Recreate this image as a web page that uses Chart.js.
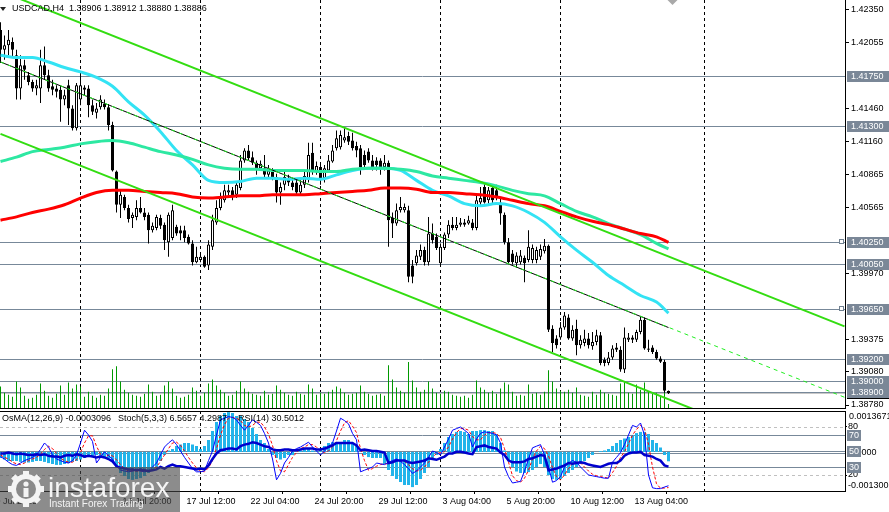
<!DOCTYPE html>
<html>
<head>
<meta charset="utf-8">
<title>USDCAD H4</title>
<script src="https://cdn.jsdelivr.net/npm/chart.js@4.4.1/dist/chart.umd.min.js"></script>
<style>
  html, body { margin:0; padding:0; background:#ffffff; }
  body { width:889px; height:512px; overflow:hidden; position:relative; }
  canvas { position:absolute; left:0; display:block; }
  #mainChart { top:0; }
  #subChart { top:410px; }
</style>
</head>
<body>
<canvas id="mainChart" width="889" height="410"></canvas>
<canvas id="subChart" width="889" height="102"></canvas>
<script>
// ---------------- DATA ----------------
const symbolTitle = 'USDCAD,H4';

const opens = [
1.4217,1.4199,1.4203,1.4206,1.4194,1.4164,1.4185,1.4176,1.4170,1.4164,
1.4164,1.4185,1.4176,1.4166,1.4164,1.4163,1.4154,1.4167,1.4146,1.4128,
1.4154,1.4165,1.4164,1.4149,1.4142,1.4147,1.4150,1.4147,1.4131,1.4089,
1.4059,1.4066,1.4056,1.4047,1.4048,1.4056,1.4052,1.4050,1.4036,1.4038,
1.4047,1.4041,1.4025,1.4029,1.4039,1.4036,1.4036,1.4030,1.4024,1.4007,
1.4009,1.4012,1.4004,1.4021,1.4043,1.4056,1.4063,1.4070,1.4072,1.4068,
1.4074,1.4099,1.4108,1.4102,1.4097,1.4092,1.4092,1.4086,1.4089,1.4084,
1.4070,1.4077,1.4083,1.4079,1.4079,1.4070,1.4077,1.4083,1.4106,1.4089,
1.4093,1.4083,1.4090,1.4098,1.4110,1.4111,1.4117,1.4121,1.4117,1.4112,
1.4110,1.4104,1.4107,1.4099,1.4099,1.4099,1.4093,1.4097,1.4047,1.4042,
1.4054,1.4054,1.4054,1.4004,1.4006,1.4012,1.4018,1.4007,1.4033,1.4030,
1.4006,1.4020,1.4032,1.4041,1.4038,1.4041,1.4043,1.4042,1.4043,1.4038,
1.4061,1.4075,1.4063,1.4074,1.4072,1.4061,1.4050,1.4025,1.4015,1.4006,
1.4007,1.4011,1.4009,1.4009,1.4009,1.4012,1.4017,1.4022,1.3947,1.3938,
1.3939,1.3948,1.3957,1.3938,1.3947,1.3932,1.3934,1.3938,1.3931,1.3935,
1.3941,1.3919,1.3916,1.3921,1.3930,1.3928,1.3910,1.3937,1.3939,1.3937,
1.3944,1.3955,1.3929,1.3930,1.3926,1.3920,1.3917,1.38906];

const highs = [
1.4224,1.4212,1.4217,1.4210,1.4199,1.4194,1.4190,1.4179,1.4172,1.4172,
1.4199,1.4202,1.4181,1.4172,1.4167,1.4167,1.4163,1.4172,1.4149,1.4169,
1.4178,1.4167,1.4167,1.4154,1.4151,1.4158,1.4154,1.4150,1.4134,1.4090,
1.4072,1.4068,1.4059,1.4052,1.4063,1.4066,1.4056,1.4052,1.4043,1.4050,
1.4050,1.4043,1.4052,1.4059,1.4041,1.4040,1.4040,1.4032,1.4027,1.4021,
1.4015,1.4013,1.4027,1.4050,1.4063,1.4070,1.4077,1.4077,1.4075,1.4079,
1.4104,1.4110,1.4113,1.4107,1.4099,1.4099,1.4104,1.4095,1.4092,1.4087,
1.4079,1.4089,1.4086,1.4083,1.4083,1.4081,1.4089,1.4115,1.4115,1.4098,
1.4097,1.4095,1.4104,1.4113,1.4126,1.4126,1.4128,1.4125,1.4124,1.4116,
1.4113,1.4108,1.4110,1.4104,1.4102,1.4101,1.4104,1.4099,1.4052,1.4060,
1.4066,1.4060,1.4058,1.4009,1.4018,1.4023,1.4021,1.4048,1.4042,1.4033,
1.4024,1.4034,1.4045,1.4048,1.4048,1.4047,1.4046,1.4049,1.4046,1.4068,
1.4075,1.4079,1.4075,1.4077,1.4077,1.4065,1.4052,1.4029,1.4018,1.4016,
1.4018,1.4013,1.4036,1.4023,1.4021,1.4023,1.4028,1.4023,1.3950,1.3941,
1.3953,1.3962,1.3960,1.3950,1.3955,1.3941,1.3946,1.3943,1.3944,1.3946,
1.3944,1.3921,1.3926,1.3932,1.3934,1.3931,1.3948,1.3943,1.3941,1.3946,
1.3958,1.3957,1.3937,1.3932,1.3928,1.3922,1.3919,1.38912];

const lows = [
1.4187,1.4190,1.4194,1.4192,1.4154,1.4154,1.4172,1.4167,1.4161,1.4158,
1.4151,1.4172,1.4161,1.4158,1.4156,1.4134,1.4149,1.4131,1.4126,1.4126,
1.4149,1.4158,1.4138,1.4140,1.4137,1.4145,1.4145,1.4126,1.4089,1.4052,
1.4047,1.4054,1.4043,1.4038,1.4045,1.4051,1.4045,1.4024,1.4034,1.4036,
1.4037,1.4018,1.4012,1.4027,1.4031,1.4027,1.4025,1.4023,1.4004,1.4006,
1.4007,1.4002,1.4000,1.4018,1.4041,1.4054,1.4061,1.4067,1.4063,1.4065,
1.4072,1.4097,1.4099,1.4095,1.4086,1.4090,1.4083,1.4084,1.4081,1.4061,
1.4059,1.4072,1.4076,1.4072,1.4067,1.4068,1.4074,1.4079,1.4086,1.4086,
1.4077,1.4079,1.4089,1.4097,1.4108,1.4109,1.4115,1.4113,1.4108,1.4102,
1.4086,1.4092,1.4097,1.4090,1.4090,1.4086,1.4090,1.4021,1.4029,1.4040,
1.4052,1.4052,1.3989,1.3988,1.4004,1.4009,1.4004,1.4004,1.4024,1.4018,
1.4004,1.4018,1.4029,1.4036,1.4036,1.4039,1.4039,1.4041,1.4036,1.4036,
1.4059,1.4060,1.4060,1.4060,1.4063,1.4041,1.4023,1.4006,1.4005,1.4002,
1.4005,1.3989,1.4007,1.4006,1.4006,1.4009,1.4015,1.3944,1.3926,1.3929,
1.3937,1.3946,1.3937,1.3936,1.3923,1.3929,1.3931,1.3929,1.3928,1.3932,
1.3914,1.3913,1.3914,1.3919,1.3926,1.3908,1.3907,1.3935,1.3934,1.3935,
1.3942,1.3928,1.3926,1.3924,1.3919,1.3916,1.3889,1.38880];

const closes = [
1.4199,1.4203,1.4208,1.4199,1.4164,1.4185,1.4181,1.4170,1.4164,1.4167,
1.4185,1.4176,1.4164,1.4163,1.4161,1.4154,1.4158,1.4146,1.4128,1.4167,
1.4167,1.4163,1.4149,1.4143,1.4146,1.4154,1.4147,1.4131,1.4090,1.4059,
1.4068,1.4056,1.4046,1.4050,1.4056,1.4052,1.4048,1.4036,1.4040,1.4048,
1.4040,1.4027,1.4050,1.4054,1.4033,1.4033,1.4029,1.4024,1.4007,1.4012,
1.4012,1.4003,1.4023,1.4045,1.4056,1.4065,1.4072,1.4072,1.4066,1.4077,
1.4099,1.4108,1.4101,1.4097,1.4092,1.4096,1.4086,1.4090,1.4084,1.4070,
1.4075,1.4084,1.4079,1.4075,1.4070,1.4077,1.4085,1.4104,1.4089,1.4094,
1.4083,1.4092,1.4099,1.4108,1.4119,1.4122,1.4120,1.4116,1.4110,1.4108,
1.4093,1.4095,1.4099,1.4093,1.4095,1.4093,1.4097,1.4045,1.4042,1.4054,
1.4057,1.4057,1.3994,1.3994,1.4013,1.4018,1.4007,1.4033,1.4027,1.4020,
1.4021,1.4032,1.4041,1.4038,1.4041,1.4043,1.4041,1.4045,1.4038,1.4063,
1.4065,1.4061,1.4072,1.4063,1.4066,1.4051,1.4025,1.4007,1.4007,1.4013,
1.4013,1.4006,1.4021,1.4020,1.4018,1.4019,1.4022,1.3946,1.3934,1.3932,
1.3948,1.3959,1.3938,1.3946,1.3932,1.3937,1.3938,1.3932,1.3935,1.3941,
1.3916,1.3916,1.3921,1.3929,1.3928,1.3910,1.3939,1.3939,1.3937,1.3944,
1.3955,1.3929,1.3928,1.3926,1.3920,1.3917,1.3891,1.38886];

const volumes = [
2100,1500,1300,1100,2600,2000,1200,900,1000,1300,2400,1700,1200,1000,1400,2200,1300,2500,1900,2300,
2100,1100,1600,1200,1000,1300,1200,1900,3800,4100,2600,1800,1500,1300,1200,1100,1400,2300,1600,1200,
1300,2200,2600,1900,1200,1000,1100,1300,2000,1700,1200,1500,2400,2800,2200,1800,1500,1200,1300,1700,
2600,1900,1600,1400,1300,1200,1700,1300,1400,2200,1800,1500,1300,1200,1600,1400,1300,2300,1900,1300,
1500,1400,1600,1800,2100,1900,1500,1300,1400,1500,2200,1600,1400,1200,1300,1400,1200,4200,2800,2000,
1700,1500,4500,2700,2000,1600,1800,2600,1900,1500,1400,1700,1600,1300,1200,1100,1200,1000,1300,2700,
2000,1800,1500,1700,1400,1900,2500,2300,1600,1200,1300,1200,2300,1400,1500,1300,1600,3700,2600,1900,
1700,1600,1800,1500,2000,1300,1200,1100,1600,1300,1800,1500,1400,1300,1200,2400,2600,1500,1400,2300,
1800,2500,1600,1400,1500,1200,2600,400];

// moving averages sampled at these bars
const maBars = [0,4,8,12,16,20,24,28,32,36,40,44,48,52,56,60,64,68,72,76,80,84,88,92,96,100,104,108,112,116,120,124,128,132,136,140,144,148,152,156,160,164,167];
const maFast = [1.4194,1.4192,1.4192,1.4188,1.4183,1.4179,1.4174,1.4166,1.4152,1.4140,1.4125,1.4108,1.4095,1.4081,1.4079,1.4080,1.4083,1.4083,1.4082,1.4083,1.4082,1.4086,1.4090,1.4092,1.4092,1.4090,1.4081,1.4072,1.4067,1.4060,1.4058,1.4060,1.4058,1.4052,1.4043,1.4030,1.4018,1.4007,1.3995,1.3986,1.3977,1.3971,1.3961];
const maMid  = [1.4098,1.4102,1.4107,1.4109,1.4111,1.4114,1.4116,1.4117,1.4115,1.4111,1.4107,1.4104,1.4100,1.4095,1.4092,1.4091,1.4091,1.4090,1.4090,1.4090,1.4089,1.4089,1.4091,1.4092,1.4092,1.4091,1.4089,1.4085,1.4083,1.4081,1.4079,1.4076,1.4072,1.4069,1.4067,1.4060,1.4053,1.4048,1.4042,1.4037,1.4032,1.4024,1.4019];
const maSlow = [1.4045,1.4048,1.4052,1.4055,1.4059,1.4065,1.4070,1.4072,1.4072,1.4071,1.4070,1.4069,1.4066,1.4065,1.4066,1.4067,1.4067,1.4068,1.4068,1.4068,1.4069,1.4070,1.4071,1.4072,1.4074,1.4074,1.4073,1.4070,1.4070,1.4069,1.4068,1.4066,1.4063,1.4060,1.4058,1.4053,1.4048,1.4044,1.4041,1.4037,1.4033,1.4030,1.4025];

// trend channel (bar, price) end points
const channelUpper = [{x:0, y:1.4252}, {x:211, y:1.3949}];
const channelMid   = [{x:0, y:1.4188}, {x:211, y:1.3885}];
const channelMidDrawn = [{x:0, y:1.4188}, {x:167, y:1.3948}];
const channelLower = [{x:0, y:1.4123}, {x:211, y:1.3820}];

const levels = [1.4175, 1.4130, 1.4025, 1.4005, 1.3965, 1.3920, 1.3900, 1.3890];
const levelsWithHandle = [1.4025, 1.3965];
const bidPrice = 1.38886;
const priceTicks = [1.42350, 1.42055, 1.41460, 1.41160, 1.40865, 1.40565, 1.39970, 1.39375, 1.39080, 1.38780];

const separatorBars = [20, 50, 80, 110, 140, 176];
const timeLabels = ['10 Jul 2025','14 Jul 20:00','17 Jul 12:00','22 Jul 04:00','24 Jul 20:00','29 Jul 12:00','3 Aug 04:00','5 Aug 20:00','10 Aug 12:00','13 Aug 04:00'];
const timeLabelBars = [-2.5, 30.5, 46.5, 62.5, 78.5, 94.5, 110.5, 126.5, 142.5, 158.5];

// indicators
const osma = [
-0.0002,-0.00025,-0.0003,-0.0003,-0.0003,-0.00033,-0.00035,-0.00035,-0.00033,-0.0003,
-0.0003,-0.00033,-0.00037,-0.0004,-0.00043,-0.00043,-0.0004,-0.00037,-0.00033,-0.0003,
-0.00025,-0.0002,-0.00017,-0.00013,-0.0001,-0.00013,-0.00017,-0.0002,-0.0003,-0.0005,
-0.0007,-0.0008,-0.0009,-0.00093,-0.0009,-0.00087,-0.0008,-0.0007,-0.0006,-0.0005,
-0.0003,-0.0001,0.00005,0.0001,0.0002,0.00025,0.0003,0.0003,0.00025,0.0002,
0.0001,0.0002,0.0004,0.0007,0.001,0.0012,0.0013,0.00133,0.0013,0.0012,
0.0012,0.0011,0.001,0.0008,0.0006,0.0004,0.0003,0.0001,-0.0001,-0.0002,
-0.00025,-0.0002,-0.0001,-0.0001,0,0.00005,0.0001,0.0001,0.00005,0.00002,
0.0001,0.0002,0.0003,0.00033,0.0003,0.00033,0.0004,0.0004,0.0003,0.0002,
0.00002,-0.0001,-0.00017,-0.0002,-0.0002,-0.0002,-0.0004,-0.0006,-0.0008,-0.0009,
-0.001,-0.0011,-0.0011,-0.00117,-0.0011,-0.0009,-0.0007,-0.0005,-0.0002,-0.0001,
0.0001,0.0003,0.0005,0.0006,0.00067,0.0007,0.00067,0.0006,0.0007,0.0007,
0.00073,0.00073,0.0007,0.0007,0.0006,0.0003,0.00005,-0.0003,-0.0005,-0.00065,
-0.0007,-0.0007,-0.00067,-0.0006,-0.0005,-0.0004,-0.0005,-0.00077,-0.0009,-0.00093,
-0.0009,-0.0008,-0.0007,-0.0006,-0.0005,-0.0004,-0.0003,-0.0002,-0.0001,0,
0.00003,0.00005,0.0001,0.0002,0.0003,0.0004,0.00045,0.0005,0.00057,0.00063,
0.00067,0.00067,0.0006,0.0004,0.0003,0.00015,-0.0001,-0.0003096];

const stochMain = [
43,40,36,33,32,35,38,40,42,45,
52,60,55,45,40,38,36,35,38,45,
60,76,70,62,35,42,49,44,40,32,
26,25,24,25,26,25,24,25,30,35,
45,55,60,64,58,50,42,35,28,24,
24,25,38,50,70,89,91,93,92,89,
82,76,82,89,86,82,72,60,40,14,
22,35,42,50,53,55,58,61,55,50,
45,50,55,60,75,91,88,84,72,64,
24,26,28,30,35,34,33,36,38,40,
37,33,28,22,25,30,35,42,50,48,
45,55,65,76,78,80,76,72,55,65,
72,74,73,72,70,60,30,18,10,11,
12,25,40,54,56,58,45,30,11,13,
18,30,35,38,36,30,25,20,19,18,
17,16,16,36,42,48,58,70,82,80,
85,70,20,4,3,3,5,6.5657];

const stochSignal = [
45,42,40,36,34,33,35,38,40,42,
46,52,56,53,47,41,38,36,36,39,
48,60,69,69,56,46,42,45,44,39,
33,28,25,25,25,25,25,25,26,30,
37,45,53,60,61,57,50,42,35,29,
25,24,29,38,53,70,83,91,92,91,
88,82,80,82,86,86,80,71,57,38,
25,24,33,42,48,53,55,58,58,55,
50,48,50,55,63,75,85,88,81,73,
53,38,26,28,31,33,34,34,36,38,
38,37,33,28,25,26,30,36,42,47,
48,49,55,65,73,78,78,76,68,64,
64,70,73,73,72,67,53,36,19,13,
11,16,26,40,50,56,53,44,29,18,
14,20,28,34,36,35,30,25,21,19,
18,17,16,23,31,42,49,59,70,77,
82,78,58,30,9,3.5,3.7,4.2987];

const rsi = [
47,47,48,47,46,47,46,45,45,46,
45,46,44,43,43,42,44,45,44,46,
45,43,44,43,42,43,42,40,37,31,
29,28,27,27,26,27,26,25,26,27,
30,28,31,33,31,31,30,29,28,27,
28,27,32,40,47,51,52,53,53,52,
56,58,59,61,60,58,56,55,52,51,
51,52,52,51,51,52,53,53,53,52,
52,53,55,57,60,60,60,60,60,57,
51,52,51,50,50,49,48,35,36,38,
38,38,36,35,36,37,38,41,40,39,
41,43,47,47,49,49,48,47,46,55,
56,57,55,54,53,48,45,38,36,36,
36,37,40,41,43,45,44,26,27,28,
30,32,35,34,35,36,35,33,32,31,
30,32,34,35,35,38,44,47,48,48,
49,45,44,43,40,38,32,30.5012];

const osmaMax = 0.0013671, osmaMin = -0.0013;
const oscDashedLevels = [80, 20];
const oscSolidLevels = [70, 50, 30];

// ---------------- DRAWING ----------------
const FONT = '9px "Liberation Sans", Arial, sans-serif';
const last = closes.length - 1;
const barIdx = closes.map((_, i) => i);

function hline(ctx, x0, x1, y) { ctx.beginPath(); ctx.moveTo(x0, y); ctx.lineTo(x1, y); ctx.stroke(); }
function vline(ctx, x, y0, y1) { ctx.beginPath(); ctx.moveTo(x, y0); ctx.lineTo(x, y1); ctx.stroke(); }

const mainDecor = {
  id: 'mainDecor',
  beforeDatasetsDraw(chart) {
    const { ctx, chartArea: a, scales } = chart;
    const x = scales.x, y = scales.y;
    ctx.save();
    ctx.beginPath(); ctx.rect(a.left, a.top, a.right - a.left, a.bottom - a.top); ctx.clip();
    ctx.lineWidth = 1;
    ctx.strokeStyle = '#000'; ctx.setLineDash([3, 3]);
    separatorBars.forEach(b => vline(ctx, x.getPixelForValue(b), a.top, a.bottom));
    ctx.setLineDash([]);
    ctx.strokeStyle = '#c8c8c8';
    hline(ctx, a.left, a.right, Math.round(y.getPixelForValue(bidPrice)) + 0.5);
    ctx.strokeStyle = '#778899';
    levels.forEach(v => hline(ctx, a.left, a.right, Math.round(y.getPixelForValue(v)) + 0.5));
    ctx.restore();
  },
  afterDraw(chart) {
    const { ctx, chartArea: a, scales: { x, y } } = chart;
    const W = chart.width;
    ctx.save();
    ctx.strokeStyle = '#000'; ctx.lineWidth = 1;
    hline(ctx, a.left, a.right + 1, a.bottom + 0.5);
    ctx.font = FONT; ctx.textBaseline = 'middle'; ctx.textAlign = 'left';
    const cy = Math.round(y.getPixelForValue(bidPrice));
    ctx.fillStyle = '#000'; ctx.fillRect(a.right + 2, cy - 5, W - a.right - 2, 11);
    ctx.fillStyle = '#fff'; ctx.fillText(bidPrice.toFixed(5), a.right + 6, cy + 0.5);
    levels.forEach(v => {
      const py = Math.round(y.getPixelForValue(v));
      ctx.fillStyle = '#7a8797'; ctx.fillRect(a.right + 2, py - 5, W - a.right - 2, 11);
      ctx.fillStyle = '#fff'; ctx.fillText(v.toFixed(5), a.right + 6, py + 0.5);
    });
    ctx.strokeStyle = '#708090';
    levelsWithHandle.forEach(v => {
      const py = Math.round(y.getPixelForValue(v));
      ctx.fillStyle = '#fff'; ctx.fillRect(a.right - 5, py - 2, 4, 4);
      ctx.strokeRect(a.right - 5.5, py - 2.5, 4, 4);
    });
    // chart shift marker
    const sx = x.getPixelForValue(last + 1);
    ctx.fillStyle = '#a9a9a9';
    ctx.beginPath(); ctx.moveTo(sx - 5, 0); ctx.lineTo(sx + 5, 0); ctx.lineTo(sx, 5); ctx.closePath(); ctx.fill();
    // header
    ctx.fillStyle = '#222';
    ctx.beginPath(); ctx.moveTo(0, 7); ctx.lineTo(6, 7); ctx.lineTo(3, 11); ctx.closePath(); ctx.fill();
    ctx.fillStyle = '#000';
    const hdr = symbolTitle + '  ' + [opens[last], highs[last], lows[last], closes[last]].map(v => v.toFixed(5)).join(' ');
    ctx.fillText(hdr, 12, 9);
    ctx.restore();
  }
};

const mainChart = new Chart(document.getElementById('mainChart'), {
  type: 'bar',
  data: {
    datasets: [
      { type: 'bar', label: 'Volumes', yAxisID: 'yv', order: 10, grouped: false,
        data: volumes.map((v, i) => ({ x: i, y: v })),
        backgroundColor: '#009900', barThickness: 1, inflateAmount: 0 },
      { type: 'bar', label: 'wicks', yAxisID: 'y', order: 9, grouped: false,
        data: barIdx.map(i => ({ x: i, y: [lows[i], highs[i]] })),
        backgroundColor: '#000', barThickness: 1, inflateAmount: 0 },
      { type: 'bar', label: 'bodies', yAxisID: 'y', order: 8, grouped: false,
        data: barIdx.map(i => ({ x: i, y: [opens[i], closes[i]] })),
        backgroundColor: barIdx.map(i => closes[i] >= opens[i] ? '#ffffff' : '#000000'),
        borderColor: '#000', borderWidth: 1, borderSkipped: false, barThickness: 3, inflateAmount: 0 },
      { type: 'line', label: 'MA fast', yAxisID: 'y', order: 7,
        data: maBars.map((b, k) => ({ x: b, y: maFast[k] })),
        borderColor: '#33e3f4', borderWidth: 3, pointRadius: 0, cubicInterpolationMode: 'monotone', clip: 0 },
      { type: 'line', label: 'MA mid', yAxisID: 'y', order: 6,
        data: maBars.map((b, k) => ({ x: b, y: maMid[k] })),
        borderColor: '#2de8a2', borderWidth: 3, pointRadius: 0, cubicInterpolationMode: 'monotone', clip: 0 },
      { type: 'line', label: 'MA slow', yAxisID: 'y', order: 5,
        data: maBars.map((b, k) => ({ x: b, y: maSlow[k] })),
        borderColor: '#ff0000', borderWidth: 3, pointRadius: 0, cubicInterpolationMode: 'monotone', clip: 0 },
      { type: 'line', label: 'channel upper', yAxisID: 'y', order: 3, data: channelUpper,
        borderColor: '#33dd11', borderWidth: 2, pointRadius: 0, tension: 0, clip: 0 },
      { type: 'line', label: 'channel lower', yAxisID: 'y', order: 3, data: channelLower,
        borderColor: '#33dd11', borderWidth: 2, pointRadius: 0, tension: 0, clip: 0 },
      { type: 'line', label: 'channel mid', yAxisID: 'y', order: 2, data: channelMidDrawn,
        borderColor: '#000', borderWidth: 1, pointRadius: 0, tension: 0, clip: 0 },
      { type: 'line', label: 'channel mid dash', yAxisID: 'y', order: 1, data: channelMid,
        borderColor: '#22ee22', borderWidth: 1, borderDash: [4, 4], pointRadius: 0, tension: 0, clip: 0 }
    ]
  },
  options: {
    responsive: false, animation: false, devicePixelRatio: 1,
    layout: { padding: { top: 0, bottom: 2, left: 0, right: 0 } },
    plugins: { legend: { display: false }, tooltip: { enabled: false } },
    events: [],
    scales: {
      x: { type: 'linear', min: -0.125, max: 211.125, display: false, offset: false },
      y: { type: 'linear', position: 'right', min: 1.38753, max: 1.42440,
        afterBuildTicks: s => { s.ticks = priceTicks.map(v => ({ value: v })); },
        afterFit: s => { s.width = 44; s.paddingTop = 0; s.paddingBottom = 0; },
        ticks: { callback: v => Number(v).toFixed(5), color: '#000', padding: 2, autoSkip: false,
                 font: { family: '"Liberation Sans", Arial, sans-serif', size: 9 } },
        grid: { drawOnChartArea: false, drawTicks: true, tickLength: 4, color: '#000' },
        border: { display: true, color: '#000' } },
      yv: { type: 'linear', display: false, min: 0, max: 40000 }
    }
  },
  plugins: [mainDecor]
});

function drawLogo(ctx, top, bottom) {
  ctx.save();
  ctx.fillStyle = 'rgba(70,70,70,0.62)';
  ctx.fillRect(0, top, 180, bottom - top);
  const cx = 26, cy = top + 22, r = 18;
  ctx.fillStyle = '#f4f4f4';
  for (let k = 0; k < 8; k++) {
    ctx.save(); ctx.translate(cx, cy); ctx.rotate(k * Math.PI / 4);
    ctx.fillRect(-3, -r, 6, 6); ctx.restore();
  }
  ctx.beginPath(); ctx.arc(cx, cy, r - 3, 0, Math.PI * 2); ctx.fill();
  ctx.fillStyle = '#8a8a8a';
  ctx.beginPath(); ctx.arc(cx, cy, r - 8, 0, Math.PI * 2); ctx.fill();
  ctx.fillStyle = '#f4f4f4';
  ctx.beginPath(); ctx.arc(cx, cy - 5, 2.6, 0, Math.PI * 2); ctx.fill();
  ctx.fillRect(cx - 2.5, cy - 1, 5, 9);
  ctx.textAlign = 'left'; ctx.textBaseline = 'alphabetic';
  ctx.font = '28px "Liberation Sans", Arial, sans-serif';
  ctx.fillText('instaforex', 48, top + 30);
  ctx.font = '10px "Liberation Sans", Arial, sans-serif';
  ctx.fillText('Instant Forex Trading', 49, top + 40);
  ctx.restore();
}

const subDecor = {
  id: 'subDecor',
  beforeDatasetsDraw(chart) {
    const { ctx, chartArea: a, scales: { x, ys, yo } } = chart;
    ctx.save();
    ctx.beginPath(); ctx.rect(a.left, a.top, a.right - a.left, a.bottom - a.top); ctx.clip();
    ctx.lineWidth = 1;
    ctx.strokeStyle = '#000'; ctx.setLineDash([3, 3]);
    separatorBars.forEach(b => vline(ctx, x.getPixelForValue(b), a.top, a.bottom));
    ctx.strokeStyle = '#c0c0c0';
    oscDashedLevels.forEach(v => hline(ctx, a.left, a.right, Math.round(ys.getPixelForValue(v)) + 0.5));
    ctx.setLineDash([]);
    ctx.strokeStyle = '#778899';
    oscSolidLevels.forEach(v => hline(ctx, a.left, a.right, Math.round(ys.getPixelForValue(v)) + 0.5));
    hline(ctx, a.left, a.right, Math.round(yo.getPixelForValue(0)) + 1.5);
    ctx.restore();
  },
  afterDraw(chart) {
    const { ctx, chartArea: a, scales: { ys, yo } } = chart;
    const W = chart.width;
    ctx.save();
    ctx.strokeStyle = '#000'; ctx.lineWidth = 1;
    hline(ctx, a.left, a.right + 1, a.top + 0.5);
    ctx.font = FONT; ctx.fillStyle = '#000'; ctx.textAlign = 'left'; ctx.textBaseline = 'middle';
    ctx.fillText('OsMA(12,26,9) ' + osma[last].toFixed(7), 2, a.top + 8);
    ctx.fillText('Stoch(5,3,3) ' + stochMain[last].toFixed(4) + ' ' + stochSignal[last].toFixed(4), 118, a.top + 8);
    ctx.fillText('RSI(14) ' + rsi[last].toFixed(4), 238, a.top + 8);
    // right side labels
    ctx.textBaseline = 'top';
    ctx.fillText(osmaMax.toFixed(7), a.right + 4, a.top + 1);
    ctx.textBaseline = 'bottom';
    ctx.fillText(osmaMin.toFixed(6), a.right + 3, a.bottom - 0.5);
    ctx.textBaseline = 'middle';
    ctx.fillText((0).toFixed(4), a.right + 4, Math.round(yo.getPixelForValue(0)) + 1);
    oscSolidLevels.forEach(v => {
      const py = Math.round(ys.getPixelForValue(v));
      ctx.fillStyle = '#7a8797'; ctx.fillRect(a.right + 2, py - 5, 14, 11);
      ctx.fillStyle = '#fff'; ctx.fillText(String(v), a.right + 4, py + 0.5);
    });
    drawLogo(ctx, 57, chart.height);
    ctx.restore();
  }
};

const subChart = new Chart(document.getElementById('subChart'), {
  type: 'bar',
  data: {
    datasets: [
      { type: 'bar', label: 'OsMA', yAxisID: 'yo', order: 5, grouped: false,
        data: osma.map((v, i) => ({ x: i, y: v })),
        backgroundColor: '#22b4ea', barThickness: 3, inflateAmount: 0 },
      { type: 'line', label: 'Stoch signal', yAxisID: 'ys', order: 3,
        data: stochSignal.map((v, i) => ({ x: i, y: v })),
        borderColor: '#ff0000', borderWidth: 1, borderDash: [3, 2], pointRadius: 0, tension: 0, clip: 0 },
      { type: 'line', label: 'Stoch main', yAxisID: 'ys', order: 2,
        data: stochMain.map((v, i) => ({ x: i, y: v })),
        borderColor: '#0000ff', borderWidth: 1, pointRadius: 0, tension: 0, clip: 0 },
      { type: 'line', label: 'RSI', yAxisID: 'ys', order: 1,
        data: rsi.map((v, i) => ({ x: i, y: v })),
        borderColor: '#0000cd', borderWidth: 2.5, pointRadius: 0, tension: 0, clip: 0 }
    ]
  },
  options: {
    responsive: false, animation: false, devicePixelRatio: 1,
    layout: { padding: { top: 1, bottom: 0, left: 0, right: 0 } },
    plugins: { legend: { display: false }, tooltip: { enabled: false } },
    events: [],
    scales: {
      x: { type: 'linear', min: -0.125, max: 211.125, offset: false, position: 'bottom',
        afterBuildTicks: s => { s.ticks = timeLabelBars.map(v => ({ value: v })); },
        afterFit: s => { s.height = 21; s.paddingLeft = 0; s.paddingRight = 0; },
        ticks: { callback: (v, i) => timeLabels[i], align: 'start', autoSkip: false, maxRotation: 0, minRotation: 0,
                 color: '#000', padding: 2, font: { family: '"Liberation Sans", Arial, sans-serif', size: 9 } },
        grid: { drawOnChartArea: false, drawTicks: true, tickLength: 3, color: '#000' },
        border: { display: true, color: '#000' } },
      ys: { type: 'linear', position: 'right', min: 0, max: 100,
        afterBuildTicks: s => { s.ticks = oscDashedLevels.map(v => ({ value: v })); },
        afterFit: s => { s.width = 44; s.paddingTop = 0; s.paddingBottom = 0; },
        ticks: { callback: v => String(v), color: '#000', padding: 1, autoSkip: false,
                 font: { family: '"Liberation Sans", Arial, sans-serif', size: 9 } },
        grid: { drawOnChartArea: false, drawTicks: true, tickLength: 2, color: '#000' },
        border: { display: true, color: '#000' } },
      yo: { type: 'linear', display: false, min: osmaMin, max: osmaMax }
    }
  },
  plugins: [subDecor]
});
</script>
</body>
</html>
